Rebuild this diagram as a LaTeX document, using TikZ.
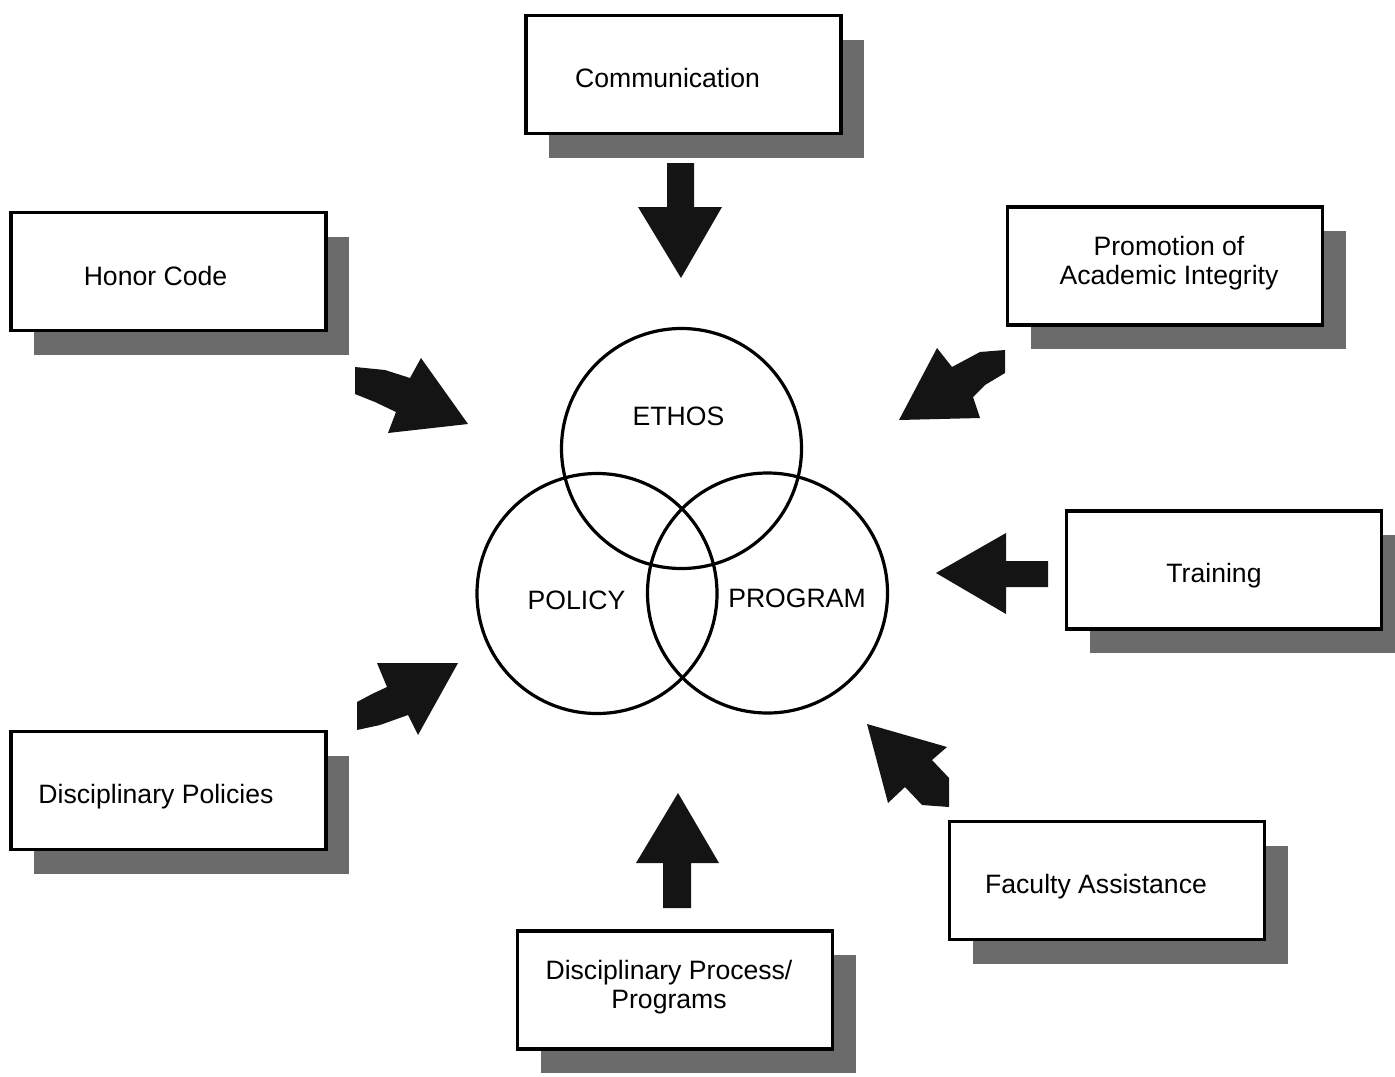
\documentclass[tikz,border=0pt]{standalone}
\usepackage{fontspec}
\setmainfont{Liberation Sans}
\usetikzlibrary{shadows}
\definecolor{shadowgray}{gray}{0.42}
\definecolor{arrowfill}{gray}{0.08}
\tikzset{
  box/.style={draw, line width=1.85pt, fill=white, minimum width=157.5pt, minimum height=59pt, inner sep=0pt,
    drop shadow={shadow xshift=11.5pt, shadow yshift=-12pt, fill=shadowgray, opacity=1}},
  ring/.style={draw, circle, line width=1.6pt, minimum size=120pt, inner sep=0pt},
  lbl/.style={font=\fontsize{13.3}{14.5}\selectfont, anchor=base, inner sep=0pt, align=center},
  blockarrow/.style={fill=arrowfill, draw=none}
}
\begin{document}
\begin{tikzpicture}[x=0.5pt, y=-0.5pt]
\useasboundingbox (0,0) rectangle (1395,1076);
% boxes
\node[box] (comm) at (683.5,74.5) {};
\node[box] (honor) at (168.5,271.5) {};
\node[box] (promo) at (1165,266) {};
\node[box] (train) at (1224,570) {};
\node[box] (dpol) at (168.5,790.5) {};
\node[box] (fac) at (1107,880.5) {};
\node[box] (dproc) at (675,990) {};
% box texts
\node[lbl] (commt) at (667.5,87) {Communication};
\node[lbl] (honort) at (155.5,285) {Honor Code};
\node[lbl] (promot) at (1169,284) {Promotion of\\Academic Integrity};
\node[lbl] (traint) at (1214,582) {Training};
\node[lbl] (dpolt) at (156,803) {Disciplinary Policies};
\node[lbl] (fact) at (1096,893) {Faculty Assistance};
\node[lbl] (dproct) at (669,1008) {Disciplinary Process/\\Programs};
% circles
\node[ring] (ethos) at (681.5,448.5) {};
\node[ring] (policy) at (597,593.5) {};
\node[ring] (program) at (767.5,593) {};
\node[lbl] (ethost) at (678.5,425) {ETHOS};
\node[lbl] (policyt) at (576.5,609) {POLICY};
\node[lbl] (programt) at (797,607) {PROGRAM};
% block arrows
\fill[blockarrow] (667,163) -- (694,163) -- (694,207) -- (722,207) -- (681,278) -- (638,207) -- (667,207) -- cycle;
\fill[blockarrow] (678,793) -- (719,863) -- (691,863) -- (691,908) -- (663,908) -- (663,863) -- (636,863) -- cycle;
\fill[blockarrow] (936,573) -- (1006,533) -- (1006,561) -- (1048,561) -- (1048,587) -- (1006,587) -- (1006,614) -- cycle;
\fill[blockarrow] (355,367) -- (385,370) -- (410,378) -- (421,358) -- (468,424) -- (388,433) -- (396,412) -- (375,402) -- (355,394) -- cycle;
\fill[blockarrow] (937,348) -- (952,367) -- (980,352) -- (1005,350) -- (1005,373) -- (985,385) -- (973,397) -- (980,418) -- (899,420) -- cycle;
\fill[blockarrow] (377,663) -- (458,663) -- (418,735) -- (408,715) -- (380,725) -- (357,730) -- (357,702) -- (372,694) -- (387,687) -- cycle;
\fill[blockarrow] (867,724) -- (947,747) -- (932,760) -- (949,778) -- (949,807) -- (922,805) -- (905,787) -- (888,803) -- cycle;
\end{tikzpicture}
\end{document}
